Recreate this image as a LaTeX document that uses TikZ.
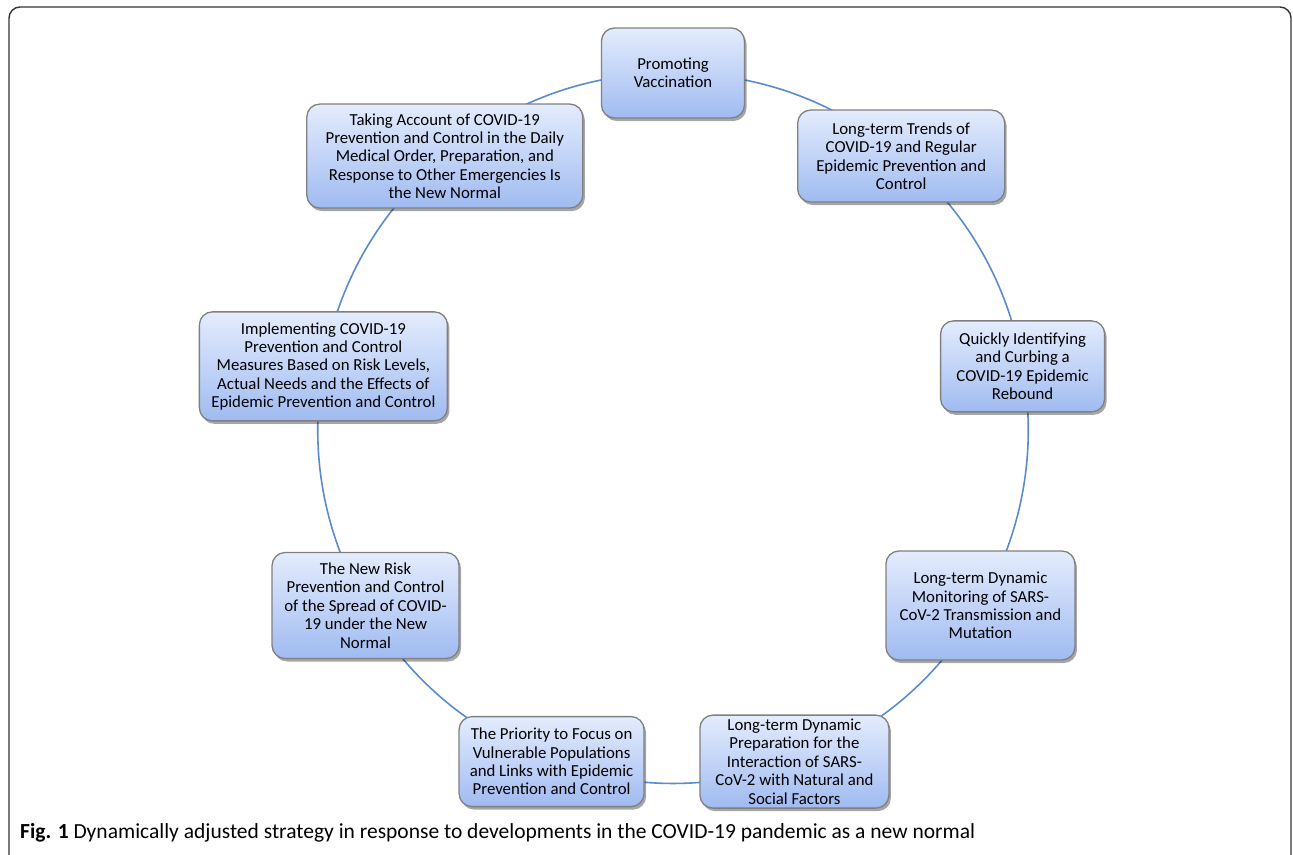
\documentclass[tikz,border=0pt]{standalone}
\usepackage{fontspec}
\setmainfont{Carlito}
\usepackage{tikz}
\usepackage{xcolor}
\usetikzlibrary{shadows, backgrounds}

\definecolor{boxtop}{HTML}{E4ECFD}
\definecolor{boxbot}{HTML}{A0BBF1}
\definecolor{boxline}{HTML}{808080}
\definecolor{linkblue}{HTML}{5B8BCF}

\tikzset{
  stage/.style={draw=boxline, line width=1.3pt, rounded corners=13pt,
    top color=boxtop, bottom color=boxbot, align=center, inner sep=0pt,
    font=\fontsize{16.8}{18.4}\selectfont,
    drop shadow={shadow xshift=2pt, shadow yshift=-3pt, opacity=0.35, fill=black}},
  link/.style={linkblue, line width=1.6pt, looseness=0.9}
}

\begin{document}
\begin{tikzpicture}[x=1pt, y=1pt]
\useasboundingbox (0,0) rectangle (1293,-854);
% Frame
\draw[line width=1.4pt, black!80, rounded corners=11pt] (9,-7) rectangle (1291,-880);

% Strategy cycle
\begin{scope}[shift={(673,-428)}]
\node[stage, minimum width=143, minimum height=90] (n1) at (90:355)
  {Promoting\\Vaccination};
\node[stage, minimum width=207, minimum height=92] (n2) at (50:355)
  {Long-term Trends of\\COVID-19 and Regular\\Epidemic Prevention and\\Control};
\node[stage, minimum width=164, minimum height=91] (n3) at (10:355)
  {Quickly Identifying\\and Curbing a\\COVID-19 Epidemic\\Rebound};
\node[stage, minimum width=189, minimum height=109] (n4) at (-30:355)
  {Long-term Dynamic\\Monitoring of SARS-\\CoV-2 Transmission and\\Mutation};
\node[stage, minimum width=189, minimum height=93] (n5) at (-70:355)
  {Long-term Dynamic\\Preparation for the\\Interaction of SARS-\\CoV-2 with Natural and\\Social Factors};
\node[stage, minimum width=185, minimum height=90] (n6) at (-110:355)
  {The Priority to Focus on\\Vulnerable Populations\\and Links with Epidemic\\Prevention and Control};
\node[stage, minimum width=187, minimum height=106] (n7) at (-150:355)
  {The New Risk\\Prevention and Control\\of the Spread of COVID-\\19 under the New\\Normal};
\node[stage, minimum width=248, minimum height=109] (n8) at (170:355)
  {Implementing COVID-19\\Prevention and Control\\Measures Based on Risk Levels,\\Actual Needs and the Effects of\\Epidemic Prevention and Control};
\node[stage, minimum width=276, minimum height=104] (n9) at (130:355)
  {Taking Account of COVID-19\\Prevention and Control in the Daily\\Medical Order, Preparation, and\\Response to Other Emergencies Is\\the New Normal};
\end{scope}

% Arcs between stages
\begin{scope}[on background layer]
\foreach \a/\b in {n1/n2, n2/n3, n3/n4, n4/n5, n5/n6, n6/n7, n7/n8, n8/n9, n9/n1} {
  \draw[link] (\a.center) to[bend left=20] (\b.center);
}
\end{scope}

% Caption
\node[anchor=base west, inner sep=0pt, font=\fontsize{21.5}{24}\selectfont] (cap) at (20,-838)
  {\textbf{Fig. 1} Dynamically adjusted strategy in response to developments in the COVID-19 pandemic as a new normal};
\end{tikzpicture}
\end{document}
